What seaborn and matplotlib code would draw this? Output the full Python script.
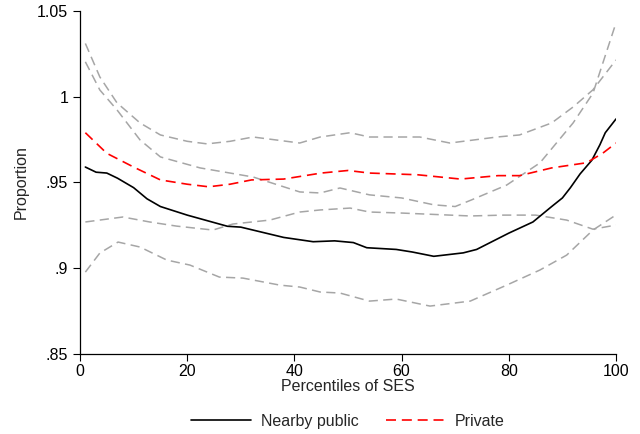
import pandas as pd
import seaborn as sns
import matplotlib
matplotlib.use("Agg")
import matplotlib.pyplot as plt

# curves
black_x = [1, 3, 5, 7, 10, 12.5, 15, 20, 27.5, 30, 34, 38, 43.5, 47.5, 51, 53.5, 59, 62, 66,
           71.5, 74, 80, 84.5, 88, 90, 91.5, 93.3, 95.5, 97, 98, 100]
black_y = [.959, .956, .9555, .9525, .947, .9405, .936, .931, .9245, .924, .921, .918, .9155, .916,
           .915, .912, .911, .9095, .907, .909, .911, .9205, .927, .936, .941, .947, .955, .963,
           .972, .979, .987]

red_x = [1, 5, 10, 15, 20, 24, 28, 32, 38, 45, 50, 54, 63, 71, 78, 82, 88, 94.5, 97.5, 100]
red_y = [.979, .967, .959, .9515, .949, .9475, .949, .9515, .952, .9555, .957, .9555, .9545, .952,
         .954, .954, .9585, .9615, .967, .973]

red_hi_x = [1, 3.7, 6.9, 11.2, 15, 20, 23.7, 28, 32.3, 41, 44.8, 50.4, 54, 63.4, 69, 77.8, 82, 88,
            92, 95.7, 100]
red_hi_y = [1.031, 1.0115, .9964, .9847, .9777, .974, .9725, .974, .9765, .973, .9765, .979, .9765,
            .9765, .973, .9765, .9777, .9847, .994, 1.004, 1.0214]

red_lo_x = [1, 8, 13, 18, 24.8, 28.5, 35.4, 41, 44.8, 50.4, 54, 60, 72.8, 79, 85, 90.8, 95.7, 100]
red_lo_y = [.927, .9299, .927, .9246, .9223, .9258, .9281, .9328, .934, .9351, .9328, .9322, .9305,
            .931, .931, .9281, .9228, .9252]

black_hi_x = [1, 3.7, 6.9, 11.2, 15, 22.4, 32.3, 41, 44.8, 48.5, 54, 60, 66, 70, 73, 79.6, 85.8,
              92, 95.7, 100]
black_hi_y = [1.0203, 1.0039, .9923, .9748, .9649, .9585, .9532, .9445, .9439, .9468, .9428, .941,
              .937, .936, .9398, .9485, .9614, .9847, 1.002, 1.043]

black_lo_x = [1, 3.7, 7.1, 11.2, 16.2, 20.5, 26, 30.4, 37.3, 41, 44.8, 48.5, 54, 59, 65.3, 72.8,
              79.6, 85.8, 90.8, 95.7, 100]
black_lo_y = [.8978, .9089, .9153, .9124, .9048, .9019, .8949, .8943, .8902, .8891, .8862, .8856,
              .8809, .8821, .878, .8809, .8902, .899, .9077, .9223, .9311]

y_ticks = [.85, .9, .95, 1, 1.05]
y_tick_labels = ['.85', '.9', '.95', '1', '1.05']
x_ticks = [0, 20, 40, 60, 80, 100]

sns.set_style("ticks")
plt.rcParams["font.family"] = ["Liberation Sans", "DejaVu Sans"]

fig, ax = plt.subplots(figsize=(6.4, 4.34), dpi=100)
fig.subplots_adjust(left=0.125, right=0.9625, top=0.975, bottom=0.184)

dash = (0, (6, 3.5))
gray = '#a6a6a6'
for xs, ys in [(red_hi_x, red_hi_y), (black_hi_x, black_hi_y),
               (red_lo_x, red_lo_y), (black_lo_x, black_lo_y)]:
    sns.lineplot(x=xs, y=ys, ax=ax, color=gray, linewidth=1.1, linestyle=dash, sort=False)

sns.lineplot(x=black_x, y=black_y, ax=ax, color='black', linewidth=1.2, label='Nearby public',
             sort=False)
sns.lineplot(x=red_x, y=red_y, ax=ax, color='red', linewidth=1.2, linestyle=dash,
             label='Private', sort=False)

ax.set_xlim(0, 100)
ax.set_ylim(.85, 1.05)
ax.set_xticks(x_ticks)
ax.set_yticks(y_ticks, labels=y_tick_labels)
ax.tick_params(labelsize=11.5, length=5, width=0.8, colors='black')
ax.tick_params(axis='x', pad=2)
ax.set_xlabel("Percentiles of SES", fontsize=11.5, labelpad=0)
ax.set_ylabel("Proportion", fontsize=11.5, labelpad=6)
for s in ['left', 'bottom']:
    ax.spines[s].set_linewidth(0.9)
    ax.spines[s].set_color('black')
sns.despine(ax=ax)

ax.legend(loc='center', bbox_to_anchor=(0.5, -0.195), ncol=2, frameon=False, fontsize=11.5,
          handlelength=3.75, handletextpad=0.6, columnspacing=1.7)

plt.savefig('out.png', dpi=100)
